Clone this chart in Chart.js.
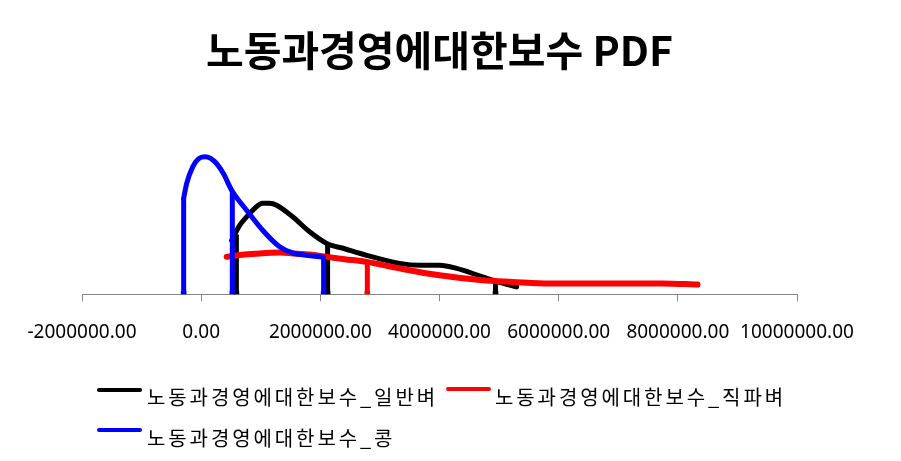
<!DOCTYPE html>
<html>
<head>
<meta charset="utf-8">
<script src="https://cdn.jsdelivr.net/npm/chart.js@4.4.1/dist/chart.umd.min.js"></script>
<style>
  html, body { margin: 0; padding: 0; background: #fff; }
  #wrap { position: relative; width: 901px; height: 461px; }
  #legend { position: absolute; left: 0; top: 0; width: 901px; height: 461px; pointer-events: none;
            font-family: "Noto Sans CJK KR", sans-serif; font-size: 20px; color: #000; }
  .item { position: absolute; white-space: nowrap; line-height: 20px; letter-spacing: 2.9px; }
  .swatch { position: absolute; height: 4px; width: 45px; border-radius: 2px; }
</style>
</head>
<body>
<div id="wrap">
  <canvas id="pdfChart" width="901" height="461"></canvas>
  <div id="legend"></div>
</div>
<script>
// x in won, y = density (x 1e-7)
const seriesNames = ["노동과경영에대한보수_일반벼", "노동과경영에대한보수_직파벼", "노동과경영에대한보수_콩"];
const seriesColors = ["#000000", "#ff0000", "#0000ff"];

const riceX = [512000, 646000, 763000, 898000, 1032000, 1149000, 1267000, 1535000, 1820000, 2106000,
  2408000, 2777000, 3331000, 3666000, 4002000, 4287000, 4723000, 5008000, 5294000];
const riceY = [1.40, 1.79, 2.01, 2.23, 2.36, 2.36, 2.31, 2.01, 1.62, 1.32,
  1.18, 1.01, 0.80, 0.75, 0.75, 0.67, 0.45, 0.31, 0.19];

const directX = [428000, 730000, 982000, 1317000, 1535000, 1820000, 2106000, 2408000, 2777000,
  3331000, 4002000, 4723000, 5226000, 5846000, 6350000, 7021000, 7743000, 8330000];
const directY = [0.97, 1.03, 1.06, 1.08, 1.06, 1.03, 0.97, 0.91, 0.84,
  0.67, 0.49, 0.36, 0.32, 0.28, 0.28, 0.28, 0.28, 0.25];

const beanX = [-294000, -243000, -143000, -42000, 59000, 159000, 260000, 378000, 512000,
  763000, 1032000, 1317000, 1535000, 1770000, 1988000, 2055000];
const beanY = [2.49, 2.88, 3.30, 3.52, 3.57, 3.53, 3.39, 3.12, 2.70,
  2.18, 1.66, 1.23, 1.07, 1.01, 0.97, 0.96];

// marker lines (x position, height) per series
const riceMarkX = [591000, 2122000, 4940000];
const riceMarkY = [1.55, 1.30, 0.33];
const directMarkX = [2789000];
const directMarkY = [0.84];
const beanMarkX = [-294000, 523000, 2055000];
const beanMarkY = [2.49, 2.68, 0.96];

const xTicks = [-2000000, 0, 2000000, 4000000, 6000000, 8000000, 10000000];

function pts(xs, ys) {
  return xs.map((x, i) => ({ x: x, y: ys[i] }));
}

function curve(idx, xs, ys, order, width) {
  return {
    label: seriesNames[idx],
    data: pts(xs, ys),
    borderColor: seriesColors[idx],
    backgroundColor: seriesColors[idx],
    borderWidth: width,
    borderCapStyle: "round",
    borderJoinStyle: "round",
    pointRadius: 0,
    cubicInterpolationMode: "monotone",
    fill: false,
    order: order,
  };
}

function markers(idx, xs, ys, order) {
  return xs.map((x, i) => ({
    label: "",
    data: [{ x: x, y: 0 }, { x: x, y: ys[i] }],
    borderColor: seriesColors[idx],
    backgroundColor: seriesColors[idx],
    borderWidth: 5,
    pointRadius: [4, 0],
    pointStyle: "rect",
    pointBorderWidth: 0,
    fill: false,
    order: order,
  }));
}

const datasets = [
  curve(2, beanX, beanY, 0, 5),
  ...markers(2, beanMarkX, beanMarkY, 0),
  curve(1, directX, directY, 1, 6),
  ...markers(1, directMarkX, directMarkY, 1),
  curve(0, riceX, riceY, 2, 5),
  ...markers(0, riceMarkX, riceMarkY, 2),
];

const ctx = document.getElementById("pdfChart").getContext("2d");
const chart = new Chart(ctx, {
  type: "line",
  data: { datasets: datasets },
  options: {
    responsive: false,
    animation: false,
    layout: { padding: { left: 82, right: 104, top: 0, bottom: 97 } },
    plugins: {
      legend: { display: false },
      tooltip: { enabled: false },
      title: {
        display: true,
        text: "노동과경영에대한보수 PDF",
        color: "#000",
        font: { family: "'Noto Sans CJK KR', sans-serif", size: 41, weight: "bold" },
        padding: { top: 26, bottom: 65 },
      },
    },
    scales: {
      x: {
        type: "linear",
        min: -2000000,
        max: 10000000,
        afterBuildTicks: (axis) => { axis.ticks = xTicks.map((v) => ({ value: v })); },
        ticks: {
          color: "#000",
          padding: 20,
          maxRotation: 0,
          font: { family: "'Noto Sans', sans-serif", size: 19 },
          callback: (v) => Number(v).toFixed(2),
        },
        grid: { display: true, drawOnChartArea: false, drawTicks: true, tickLength: 7, color: "#868686" },
        border: { display: true, color: "#868686", width: 1 },
      },
      y: { display: false, min: 0, max: 4 },
    },
  },
});

// legend drawn as html text below the plot
const legendSpots = [
  { sx: 97, sy: 388, tx: 147, ty: 387 },
  { sx: 446, sy: 387, tx: 495, ty: 387 },
  { sx: 97, sy: 428, tx: 147, ty: 428 },
];
const legendBox = document.getElementById("legend");
seriesNames.forEach((name, i) => {
  const s = legendSpots[i];
  const sw = document.createElement("div");
  sw.className = "swatch";
  sw.style.left = s.sx + "px";
  sw.style.top = s.sy + "px";
  sw.style.background = seriesColors[i];
  legendBox.appendChild(sw);
  const lb = document.createElement("div");
  lb.className = "item";
  lb.style.left = s.tx + "px";
  lb.style.top = s.ty + "px";
  lb.textContent = name;
  legendBox.appendChild(lb);
});
</script>
</body>
</html>
